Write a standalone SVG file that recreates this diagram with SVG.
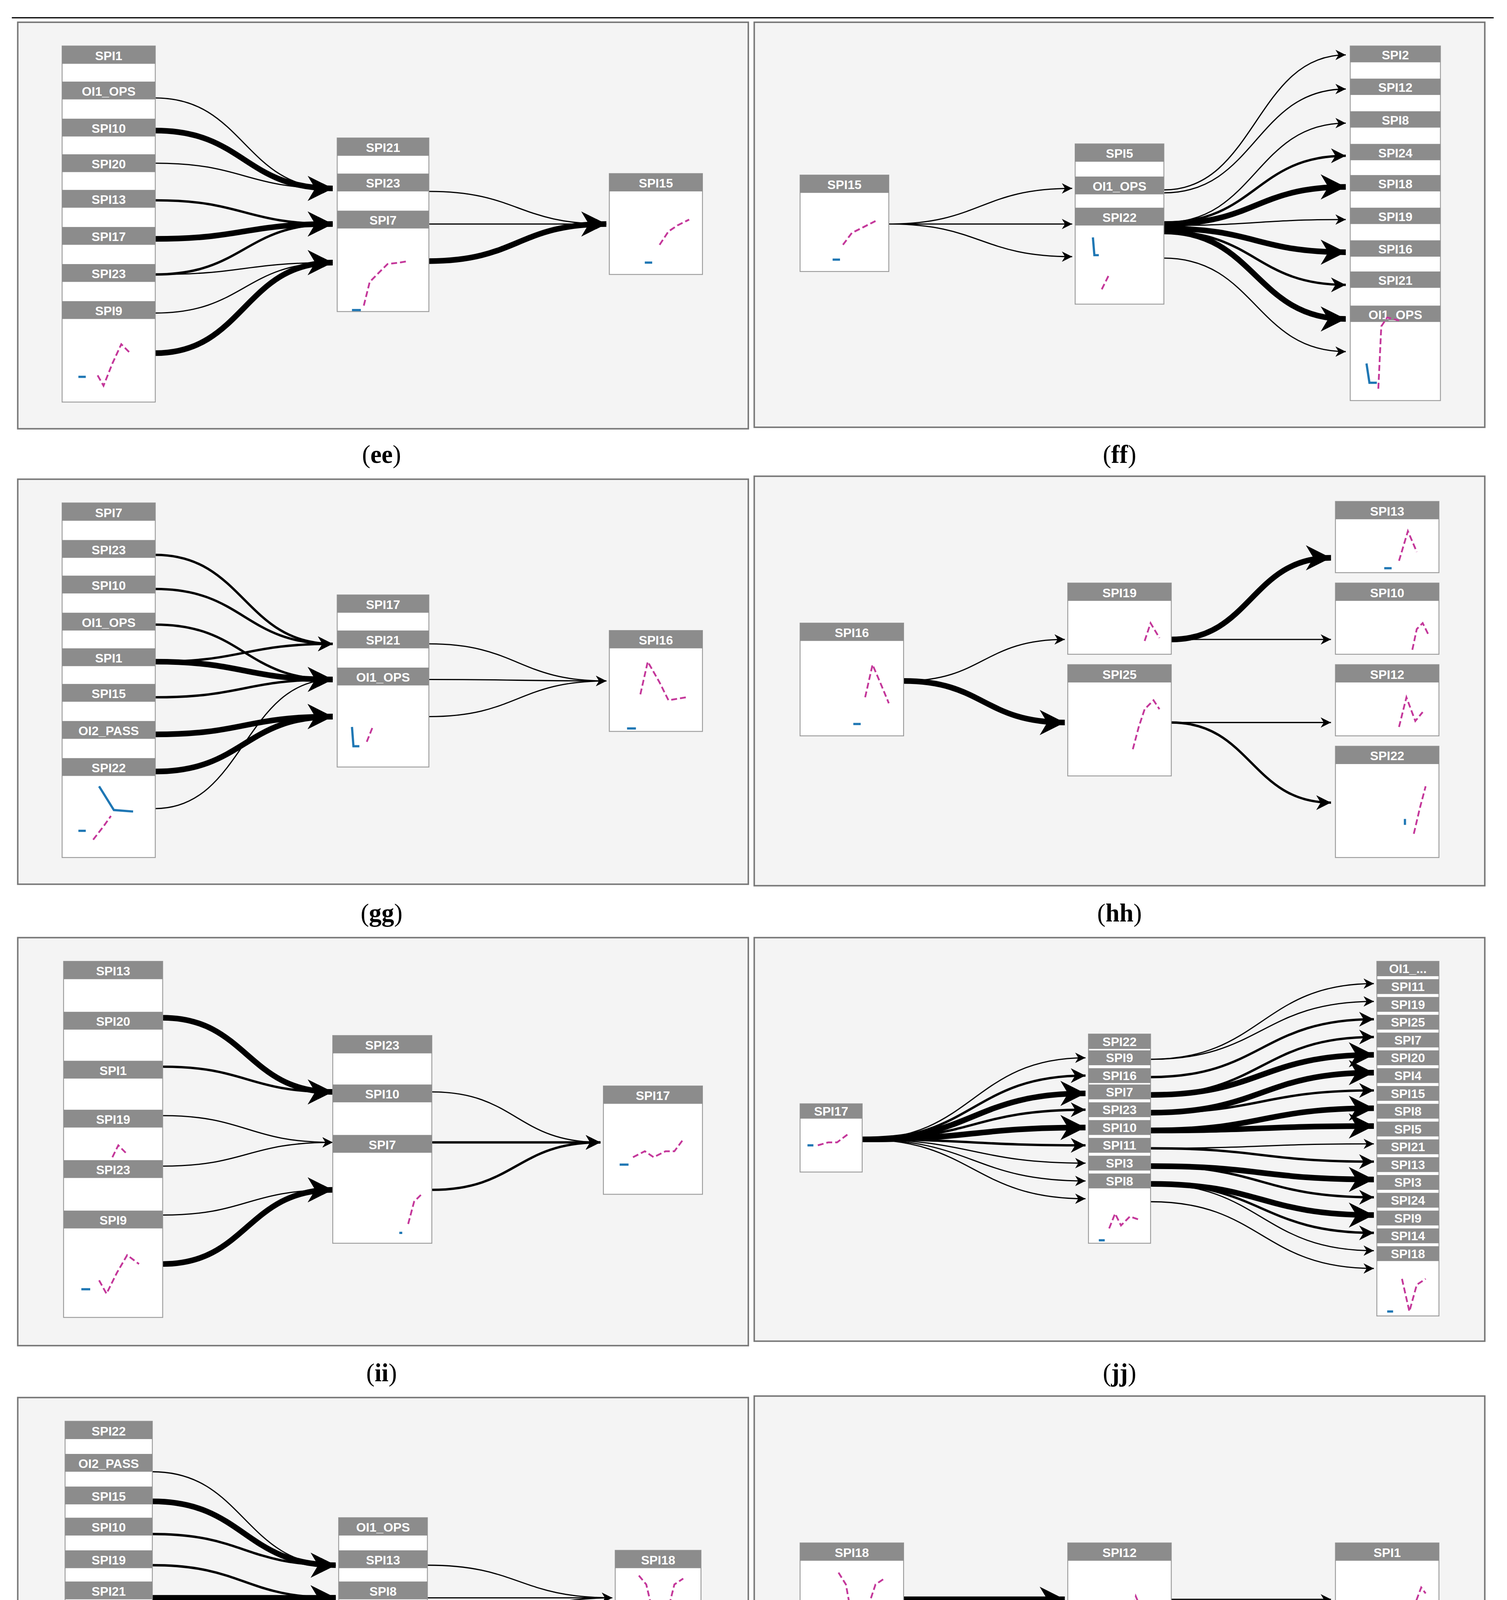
<svg xmlns="http://www.w3.org/2000/svg" width="3859" height="5951" viewBox="0 0 3859 5951">
<style>
.pn{fill:#f4f4f4;stroke:#777;stroke-width:1}
.bd{fill:#fff;stroke:#999;stroke-width:0.6}
.hd{fill:#8c8c8c}
.ht{fill:#fff;font-family:"Liberation Sans",Arial,sans-serif;font-weight:bold;font-size:8.5px;text-anchor:middle}
.cap{fill:#000;font-family:"Liberation Serif","Times New Roman",serif;font-size:17px;text-anchor:middle}
.cap tspan{font-weight:bold}
.e{fill:none;stroke:#000}
.t1{stroke-width:0.8;marker-end:url(#a1)}
.t2{stroke-width:1.6;marker-end:url(#a2)}
.t3{stroke-width:3.8;marker-end:url(#a3)}
.sp{fill:none;stroke:#c4379a;stroke-width:1.2;stroke-dasharray:4 2}
.bl{fill:none;stroke:#1f77b4;stroke-width:1.5}
</style>
<defs>
<marker id="a1" markerUnits="userSpaceOnUse" viewBox="0 0 10 10" refX="10" refY="5" markerWidth="7" markerHeight="7" orient="auto"><path d="M0,0 L10,5 L0,10 L3,5 Z" fill="#000"/></marker>
<marker id="a2" markerUnits="userSpaceOnUse" viewBox="0 0 10 10" refX="10" refY="5" markerWidth="10" markerHeight="10" orient="auto"><path d="M0,0 L10,5 L0,10 L3,5 Z" fill="#000"/></marker>
<marker id="a3" markerUnits="userSpaceOnUse" viewBox="0 0 10 10" refX="10" refY="5" markerWidth="17" markerHeight="17" orient="auto"><path d="M0,0 L10,5 L0,10 L3,5 Z" fill="#000"/></marker>
</defs>
<rect width="3859" height="5951" fill="#fff"/>
<g transform="scale(3.787,3.798)">
<line x1="8" y1="12" x2="1010" y2="12" stroke="#000" stroke-width="0.8"/>
<g id="panels">
<rect class="pn" x="12" y="15" width="494" height="274"/><rect class="pn" x="510" y="15" width="494" height="273"/>
<rect class="pn" x="12" y="323" width="494" height="273"/><rect class="pn" x="510" y="321" width="494" height="276"/>
<rect class="pn" x="12" y="632" width="494" height="275"/><rect class="pn" x="510" y="632" width="494" height="272"/>
<rect class="pn" x="12" y="942" width="494" height="272"/><rect class="pn" x="510" y="941" width="494" height="275"/>
<rect class="pn" x="12" y="1250" width="494" height="274"/><rect class="pn" x="510" y="1249" width="494" height="279"/>
</g>
<g id="captions">
<text class="cap" x="258" y="312">(<tspan>ee</tspan>)</text><text class="cap" x="757" y="312">(<tspan>ff</tspan>)</text>
<text class="cap" x="258" y="621">(<tspan>gg</tspan>)</text><text class="cap" x="757" y="621">(<tspan>hh</tspan>)</text>
<text class="cap" x="258" y="931">(<tspan>ii</tspan>)</text><text class="cap" x="757" y="931">(<tspan>jj</tspan>)</text>
<text class="cap" x="258" y="1239">(<tspan>kk</tspan>)</text><text class="cap" x="757" y="1239">(<tspan>ll</tspan>)</text>
<text class="cap" x="258" y="1552">(<tspan>mm</tspan>)</text><text class="cap" x="757" y="1552">(<tspan>nn</tspan>)</text>
</g>

<g id="connectors">
<!-- ee -->
<path class="e t1" d="M105,66 C165,66 165,127 225,127"/>
<path class="e t3" d="M105,88 C165,88 165,127 225,127"/>
<path class="e t1" d="M105,110 C165,110 165,127 225,127"/>
<path class="e t2" d="M105,135 C165,135 165,151 225,151"/>
<path class="e t3" d="M105,161 C165,161 165,151 225,151"/>
<path class="e t2" d="M105,185 C165,185 165,151 225,151"/>
<path class="e t1" d="M105,185 C165,185 165,177 225,177"/>
<path class="e t1" d="M105,211 C165,211 165,177 225,177"/>
<path class="e t3" d="M105,238 C165,238 165,177 225,177"/>
<path class="e t1" d="M290,129 C350,129 350,151 410,151"/>
<path class="e t1" d="M290,151 C350,151 350,151 410,151"/>
<path class="e t3" d="M290,176 C350,176 350,151 410,151"/>
<!-- ff -->
<path class="e t1" d="M601,151 C663,151 663,127 725,127"/>
<path class="e t1" d="M601,151 C663,151 663,151 725,151"/>
<path class="e t1" d="M601,151 C663,151 663,173 725,173"/>
<path class="e t1" d="M787,128 C849,128 849,37 910,37" stroke="#777"/>
<path class="e t1" d="M787,130 C849,130 849,60 910,60"/>
<path class="e t1" d="M787,150 C849,150 849,83 910,83"/>
<path class="e t2" d="M787,150 C849,150 849,105 910,105"/>
<path class="e t3" d="M787,151 C849,151 849,126 910,126"/>
<path class="e t1" d="M787,152 C849,152 849,148 910,148" stroke="#777"/>
<path class="e t3" d="M787,154 C849,154 849,170 910,170"/>
<path class="e t2" d="M787,156 C849,156 849,192 910,192"/>
<path class="e t3" d="M787,156 C849,156 849,215 910,215"/>
<path class="e t1" d="M787,174 C849,174 849,237 910,237"/>
<!-- gg -->
<path class="e t2" d="M105,374 C165,374 165,434 225,434"/>
<path class="e t2" d="M105,397 C165,397 165,434 225,434"/>
<path class="e t2" d="M105,421 C165,421 165,458 225,458"/>
<path class="e t2" d="M105,446 C165,446 165,434 225,434"/>
<path class="e t3" d="M105,446 C165,446 165,458 225,458"/>
<path class="e t2" d="M105,470 C165,470 165,458 225,458"/>
<path class="e t3" d="M105,495 C165,495 165,483 225,483"/>
<path class="e t3" d="M105,520 C165,520 165,483 225,483"/>
<path class="e t1" d="M105,545 C165,545 165,458 225,458"/>
<path class="e t1" d="M290,434 C350,434 350,459 410,459"/>
<path class="e t1" d="M290,458 C350,458 350,459 410,459"/>
<path class="e t1" d="M290,483 C350,483 350,459 410,459"/>
<!-- hh -->
<path class="e t1" d="M611,459 C665,459 665,431 720,431"/>
<path class="e t3" d="M611,459 C665,459 665,487 720,487"/>
<path class="e t3" d="M792,431 C846,431 846,376 900,376"/>
<path class="e t1" d="M792,431 C846,431 846,431 900,431"/>
<path class="e t1" d="M792,487 C846,487 846,487 900,487" stroke="#555"/>
<path class="e t2" d="M792,487 C846,487 846,541 900,541"/>
<!-- ii -->
<path class="e t3" d="M110,686 C167,686 167,736 225,736"/>
<path class="e t2" d="M110,719 C167,719 167,736 225,736"/>
<path class="e t1" d="M110,752 C167,752 167,770 225,770" stroke="#555"/>
<path class="e t1" d="M110,786 C167,786 167,770 225,770"/>
<path class="e t1" d="M110,819 C167,819 167,802 225,802"/>
<path class="e t3" d="M110,852 C167,852 167,802 225,802"/>
<path class="e t1" d="M292,736 C349,736 349,770 406,770"/>
<path class="e t2" d="M292,770 C349,770 349,770 406,770"/>
<path class="e t2" d="M292,802 C349,802 349,770 406,770"/>
<!-- jj -->
<path class="e t1" d="M583,768 C658,768 658,713 734,713"/>
<path class="e t2" d="M583,768 C658,768 658,725 734,725"/>
<path class="e t3" d="M583,768 C658,768 658,737 734,737"/>
<path class="e t2" d="M583,768 C658,768 658,748 734,748"/>
<path class="e t3" d="M583,768 C658,768 658,760 734,760"/>
<path class="e t2" d="M583,768 C658,768 658,772 734,772"/>
<path class="e t1" d="M583,768 C658,768 658,784 734,784"/>
<path class="e t1" d="M583,768 C658,768 658,796 734,796"/>
<path class="e t1" d="M583,768 C658,768 658,808 734,808"/>
<path class="e t1" d="M778,714 C853,714 853,663 929,663"/>
<path class="e t1" d="M778,714 C853,714 853,675 929,675" stroke="#666"/>
<path class="e t2" d="M778,726 C853,726 853,687 929,687"/>
<path class="e t2" d="M778,738 C853,738 853,699 929,699"/>
<path class="e t3" d="M778,738 C853,738 853,711 929,711"/>
<path class="e t3" d="M778,750 C853,750 853,723 929,723"/>
<path class="e t2" d="M778,750 C853,750 853,735 929,735"/>
<path class="e t3" d="M778,762 C853,762 853,747 929,747"/>
<path class="e t3" d="M778,762 C853,762 853,759 929,759"/>
<path class="e t1" d="M778,774 C853,774 853,771 929,771"/>
<path class="e t2" d="M778,774 C853,774 853,783 929,783"/>
<path class="e t3" d="M778,786 C853,786 853,795 929,795"/>
<path class="e t2" d="M778,786 C853,786 853,807 929,807"/>
<path class="e t3" d="M778,798 C853,798 853,819 929,819"/>
<path class="e t2" d="M778,798 C853,798 853,831 929,831"/>
<path class="e t1" d="M778,798 C853,798 853,843 929,843"/>
<path class="e t1" d="M778,810 C853,810 853,855 929,855" stroke="#666"/>
<!-- kk -->
<path class="e t1" d="M103,992 C165,992 165,1055 227,1055"/>
<path class="e t3" d="M103,1012 C165,1012 165,1055 227,1055"/>
<path class="e t2" d="M103,1034 C165,1034 165,1055 227,1055"/>
<path class="e t2" d="M103,1055 C165,1055 165,1077 227,1077"/>
<path class="e t3" d="M103,1077 C165,1077 165,1077 227,1077"/>
<path class="e t3" d="M103,1097 C165,1097 165,1077 227,1077"/>
<path class="e t1" d="M103,1120 C165,1120 165,1098 227,1098"/>
<path class="e t1" d="M103,1142 C165,1142 165,1098 227,1098"/>
<path class="e t1" d="M103,1164 C165,1164 165,1098 227,1098"/>
<path class="e t1" d="M289,1055 C351,1055 351,1077 414,1077" stroke="#777"/>
<path class="e t1" d="M289,1077 C351,1077 351,1077 414,1077"/>
<path class="e t1" d="M289,1098 C351,1098 351,1077 414,1077" stroke="#777"/>
<!-- ll -->
<path class="e t3" d="M611,1078 L720,1078"/>
<path class="e t1" d="M792,1078 L900,1078"/>
<!-- mm -->
<path class="e t1" d="M109,1304 C165,1304 165,1354 222,1354"/>
<path class="e t3" d="M109,1338 C165,1338 165,1354 222,1354"/>
<path class="e t1" d="M109,1380 C165,1380 165,1420 222,1420"/>
<path class="e t1" d="M109,1406 C165,1406 165,1420 222,1420"/>
<path class="e t1" d="M109,1472 C165,1472 165,1420 222,1420"/>
<path class="e t3" d="M292,1354 C348,1354 348,1388 405,1388"/>
<path class="e t3" d="M292,1388 C348,1388 348,1388 405,1388"/>
<!-- nn -->
<path class="e t3" d="M603,1388 C664,1388 664,1376 725,1376"/>
<path class="e t1" d="M603,1388 C664,1388 664,1398 725,1398"/>
<path class="e t3" d="M787,1376 C848,1376 848,1299 910,1299"/>
<path class="e t3" d="M787,1376 C848,1376 848,1320 910,1320"/>
<path class="e t2" d="M787,1376 C848,1376 848,1342 910,1342"/>
<path class="e t1" d="M787,1376 C848,1376 848,1364 910,1364"/>
<path class="e t1" d="M787,1377 C848,1377 848,1386 910,1386"/>
<path class="e t2" d="M787,1378 C848,1378 848,1408 910,1408"/>
<path class="e t1" d="M787,1378 C848,1378 848,1429 910,1429"/>
<path class="e t2" d="M787,1378 C848,1378 848,1451 910,1451"/>
<path class="e t1" d="M787,1378 C848,1378 848,1473 910,1473"/>
</g>

<!-- ee nodes -->
<g id="ee_left"><rect class="bd" x="42" y="31" width="63" height="240"/>
<rect class="hd" x="42" y="31" width="63" height="12"/><text class="ht" x="73.5" y="40.5">SPI1</text>
<rect class="hd" x="42" y="55" width="63" height="12"/><text class="ht" x="73.5" y="64.5">OI1_OPS</text>
<rect class="hd" x="42" y="80" width="63" height="12"/><text class="ht" x="73.5" y="89.5">SPI10</text>
<rect class="hd" x="42" y="104" width="63" height="12"/><text class="ht" x="73.5" y="113.5">SPI20</text>
<rect class="hd" x="42" y="128" width="63" height="12"/><text class="ht" x="73.5" y="137.5">SPI13</text>
<rect class="hd" x="42" y="153" width="63" height="12"/><text class="ht" x="73.5" y="162.5">SPI17</text>
<rect class="hd" x="42" y="178" width="63" height="12"/><text class="ht" x="73.5" y="187.5">SPI23</text>
<rect class="hd" x="42" y="203" width="63" height="12"/><text class="ht" x="73.5" y="212.5">SPI9</text>
<polyline class="sp" points="66,253 70,260 76,245 82,232 88,238"/><line class="bl" x1="53" y1="254" x2="58" y2="254"/></g>
<g id="ee_mid"><rect class="bd" x="228" y="93" width="62" height="117"/>
<rect class="hd" x="228" y="93" width="62" height="12"/><text class="ht" x="259" y="102.5">SPI21</text>
<rect class="hd" x="228" y="117" width="62" height="12"/><text class="ht" x="259" y="126.5">SPI23</text>
<rect class="hd" x="228" y="142" width="62" height="12"/><text class="ht" x="259" y="151.5">SPI7</text>
<polyline class="sp" points="246,206 250,190 254,186 262,178 270,177 276,176"/><line class="bl" x1="238" y1="209" x2="244" y2="209"/></g>
<g id="ee_right"><rect class="bd" x="412" y="117" width="63" height="68"/>
<rect class="hd" x="412" y="117" width="63" height="12"/><text class="ht" x="443.5" y="126.5">SPI15</text>
<polyline class="sp" points="446,165 452,156 458,152 466,148"/><line class="bl" x1="436" y1="177" x2="441" y2="177"/></g>

<!-- ff nodes -->
<g id="ff_left"><rect class="bd" x="541" y="118" width="60" height="65"/>
<rect class="hd" x="541" y="118" width="60" height="12"/><text class="ht" x="571" y="127.5">SPI15</text>
<polyline class="sp" points="570,165 576,157 584,153 592,149"/><line class="bl" x1="563" y1="175" x2="568" y2="175"/></g>
<g id="ff_mid"><rect class="bd" x="727" y="97" width="60" height="108"/>
<rect class="hd" x="727" y="97" width="60" height="12"/><text class="ht" x="757" y="106.5">SPI5</text>
<rect class="hd" x="727" y="119" width="60" height="12"/><text class="ht" x="757" y="128.5">OI1_OPS</text>
<rect class="hd" x="727" y="140" width="60" height="12"/><text class="ht" x="757" y="149.5">SPI22</text>
<polyline class="sp" points="745,195 750,185"/><polyline class="bl" points="739,160 740,172 743,172"/></g>
<g id="ff_right"><rect class="bd" x="913" y="31" width="61" height="239"/>
<rect class="hd" x="913" y="31" width="61" height="11"/><text class="ht" x="943.5" y="40">SPI2</text>
<rect class="hd" x="913" y="53" width="61" height="11"/><text class="ht" x="943.5" y="62">SPI12</text>
<rect class="hd" x="913" y="75" width="61" height="11"/><text class="ht" x="943.5" y="84">SPI8</text>
<rect class="hd" x="913" y="97" width="61" height="11"/><text class="ht" x="943.5" y="106">SPI24</text>
<rect class="hd" x="913" y="118" width="61" height="11"/><text class="ht" x="943.5" y="127">SPI18</text>
<rect class="hd" x="913" y="140" width="61" height="11"/><text class="ht" x="943.5" y="149">SPI19</text>
<rect class="hd" x="913" y="162" width="61" height="11"/><text class="ht" x="943.5" y="171">SPI16</text>
<rect class="hd" x="913" y="183" width="61" height="11"/><text class="ht" x="943.5" y="192">SPI21</text>
<rect class="hd" x="913" y="206" width="61" height="11"/><text class="ht" x="943.5" y="215">OI1_OPS</text>
<polyline class="sp" points="932,262 934,220 938,214 946,216"/><polyline class="bl" points="924,245 926,258 931,258"/></g>

<!-- gg nodes -->
<g id="gg_left"><rect class="bd" x="42" y="339" width="63" height="239"/>
<rect class="hd" x="42" y="339" width="63" height="12"/><text class="ht" x="73.5" y="348.5">SPI7</text>
<rect class="hd" x="42" y="364" width="63" height="12"/><text class="ht" x="73.5" y="373.5">SPI23</text>
<rect class="hd" x="42" y="388" width="63" height="12"/><text class="ht" x="73.5" y="397.5">SPI10</text>
<rect class="hd" x="42" y="413" width="63" height="12"/><text class="ht" x="73.5" y="422.5">OI1_OPS</text>
<rect class="hd" x="42" y="437" width="63" height="12"/><text class="ht" x="73.5" y="446.5">SPI1</text>
<rect class="hd" x="42" y="461" width="63" height="12"/><text class="ht" x="73.5" y="470.5">SPI15</text>
<rect class="hd" x="42" y="486" width="63" height="12"/><text class="ht" x="73.5" y="495.5">OI2_PASS</text>
<rect class="hd" x="42" y="511" width="63" height="12"/><text class="ht" x="73.5" y="520.5">SPI22</text>
<polyline class="bl" points="67,530 77,546 90,547"/><polyline class="sp" points="63,566 70,557 75,550"/><line class="bl" x1="53" y1="560" x2="58" y2="560"/></g>
<g id="gg_mid"><rect class="bd" x="228" y="401" width="62" height="116"/>
<rect class="hd" x="228" y="401" width="62" height="12"/><text class="ht" x="259" y="410.5">SPI17</text>
<rect class="hd" x="228" y="425" width="62" height="12"/><text class="ht" x="259" y="434.5">SPI21</text>
<rect class="hd" x="228" y="450" width="62" height="12"/><text class="ht" x="259" y="459.5">OI1_OPS</text>
<polyline class="bl" points="238,490 239,503 243,503"/><polyline class="sp" points="248,500 252,490"/></g>
<g id="gg_right"><rect class="bd" x="412" y="425" width="63" height="68"/>
<rect class="hd" x="412" y="425" width="63" height="12"/><text class="ht" x="443.5" y="434.5">SPI16</text>
<polyline class="sp" points="433,468 438,446 446,460 452,472 464,470"/><line class="bl" x1="424" y1="491" x2="430" y2="491"/></g>

<!-- hh nodes -->
<g id="hh_left"><rect class="bd" x="541" y="420" width="70" height="76"/>
<rect class="hd" x="541" y="420" width="70" height="12"/><text class="ht" x="576" y="429.5">SPI16</text>
<polyline class="sp" points="585,470 590,448 596,462 601,474"/><line class="bl" x1="577" y1="488" x2="582" y2="488"/></g>
<g id="hh_mid"><rect class="bd" x="722" y="393" width="70" height="48"/>
<rect class="hd" x="722" y="393" width="70" height="12"/><text class="ht" x="757" y="402.5">SPI19</text>
<polyline class="sp" points="774,432 778,420 784,430"/>
<rect class="bd" x="722" y="448" width="70" height="75"/>
<rect class="hd" x="722" y="448" width="70" height="12"/><text class="ht" x="757" y="457.5">SPI25</text>
<polyline class="sp" points="766,505 770,490 774,478 780,472 784,478"/></g>
<g id="hh_right"><rect class="bd" x="903" y="338" width="70" height="48"/>
<rect class="hd" x="903" y="338" width="70" height="12"/><text class="ht" x="938" y="347.5">SPI13</text>
<polyline class="sp" points="946,378 952,358 958,372"/><line class="bl" x1="936" y1="383" x2="941" y2="383"/>
<rect class="bd" x="903" y="393" width="70" height="48"/>
<rect class="hd" x="903" y="393" width="70" height="12"/><text class="ht" x="938" y="402.5">SPI10</text>
<polyline class="sp" points="955,438 958,424 962,420 966,428"/>
<rect class="bd" x="903" y="448" width="70" height="48"/>
<rect class="hd" x="903" y="448" width="70" height="12"/><text class="ht" x="938" y="457.5">SPI12</text>
<polyline class="sp" points="946,490 951,470 957,486 962,480"/>
<rect class="bd" x="903" y="503" width="70" height="75"/>
<rect class="hd" x="903" y="503" width="70" height="12"/><text class="ht" x="938" y="512.5">SPI22</text>
<polyline class="sp" points="956,562 960,545 964,530"/><line class="bl" x1="950" y1="556" x2="950" y2="552"/></g>

<!-- ii nodes -->
<g id="ii_left"><rect class="bd" x="43" y="648" width="67" height="240"/>
<rect class="hd" x="43" y="648" width="67" height="12"/><text class="ht" x="76.5" y="657.5">SPI13</text>
<rect class="hd" x="43" y="682" width="67" height="12"/><text class="ht" x="76.5" y="691.5">SPI20</text>
<rect class="hd" x="43" y="715" width="67" height="12"/><text class="ht" x="76.5" y="724.5">SPI1</text>
<rect class="hd" x="43" y="748" width="67" height="12"/><text class="ht" x="76.5" y="757.5">SPI19</text>
<rect class="hd" x="43" y="782" width="67" height="12"/><text class="ht" x="76.5" y="791.5">SPI23</text>
<rect class="hd" x="43" y="816" width="67" height="12"/><text class="ht" x="76.5" y="825.5">SPI9</text>
<polyline class="sp" points="67,863 72,872 79,858 86,846 94,852"/><line class="bl" x1="55" y1="869" x2="61" y2="869"/>
<polyline class="sp" points="76,780 80,772 86,778"/></g>
<g id="ii_mid"><rect class="bd" x="225" y="698" width="67" height="140"/>
<rect class="hd" x="225" y="698" width="67" height="12"/><text class="ht" x="258.5" y="707.5">SPI23</text>
<rect class="hd" x="225" y="731" width="67" height="12"/><text class="ht" x="258.5" y="740.5">SPI10</text>
<rect class="hd" x="225" y="765" width="67" height="12"/><text class="ht" x="258.5" y="774.5">SPI7</text>
<polyline class="sp" points="276,825 280,810 286,804"/><line class="bl" x1="270" y1="831" x2="272" y2="831"/></g>
<g id="ii_right"><rect class="bd" x="408" y="732" width="67" height="73"/>
<rect class="hd" x="408" y="732" width="67" height="12"/><text class="ht" x="441.5" y="741.5">SPI17</text>
<polyline class="sp" points="428,780 436,776 442,780 450,776 456,776 462,768"/><line class="bl" x1="419" y1="785" x2="425" y2="785"/></g>

<!-- jj nodes -->
<g id="jj_left"><rect class="bd" x="541" y="744" width="42" height="46"/>
<rect class="hd" x="541" y="744" width="42" height="10"/><text class="ht" x="562" y="752" font-size="7.5">SPI17</text>
<polyline class="sp" points="553,772 560,770 566,770 574,764"/><line class="bl" x1="546" y1="772" x2="550" y2="772"/></g>
<g id="jj_mid" font-size="7.5"><rect class="bd" x="736" y="697" width="42" height="141"/>
<rect class="hd" x="736" y="697" width="42" height="10"/><text class="ht" x="757" y="705" font-size="7.5">SPI22</text>
<rect class="hd" x="736" y="708" width="42" height="10"/><text class="ht" x="757" y="716" font-size="7.5">SPI9</text>
<rect class="hd" x="736" y="720" width="42" height="10"/><text class="ht" x="757" y="728" font-size="7.5">SPI16</text>
<rect class="hd" x="736" y="731" width="42" height="10"/><text class="ht" x="757" y="739" font-size="7.5">SPI7</text>
<rect class="hd" x="736" y="743" width="42" height="10"/><text class="ht" x="757" y="751" font-size="7.5">SPI23</text>
<rect class="hd" x="736" y="755" width="42" height="10"/><text class="ht" x="757" y="763" font-size="7.5">SPI10</text>
<rect class="hd" x="736" y="767" width="42" height="10"/><text class="ht" x="757" y="775" font-size="7.5">SPI11</text>
<rect class="hd" x="736" y="779" width="42" height="10"/><text class="ht" x="757" y="787" font-size="7.5">SPI3</text>
<rect class="hd" x="736" y="791" width="42" height="10"/><text class="ht" x="757" y="799" font-size="7.5">SPI8</text>
<polyline class="sp" points="750,828 754,818 758,826 764,820 770,822"/><line class="bl" x1="743" y1="836" x2="747" y2="836"/></g>
<g id="jj_right"><rect class="bd" x="931" y="648" width="42" height="239"/>
<rect class="hd" x="931" y="648" width="42" height="10"/><text class="ht" x="952" y="656" font-size="7.5">OI1_...</text>
<rect class="hd" x="931" y="660" width="42" height="10"/><text class="ht" x="952" y="668" font-size="7.5">SPI11</text>
<rect class="hd" x="931" y="672" width="42" height="10"/><text class="ht" x="952" y="680" font-size="7.5">SPI19</text>
<rect class="hd" x="931" y="684" width="42" height="10"/><text class="ht" x="952" y="692" font-size="7.5">SPI25</text>
<rect class="hd" x="931" y="696" width="42" height="10"/><text class="ht" x="952" y="704" font-size="7.5">SPI7</text>
<rect class="hd" x="931" y="708" width="42" height="10"/><text class="ht" x="952" y="716" font-size="7.5">SPI20</text>
<rect class="hd" x="931" y="720" width="42" height="10"/><text class="ht" x="952" y="728" font-size="7.5">SPI4</text>
<rect class="hd" x="931" y="732" width="42" height="10"/><text class="ht" x="952" y="740" font-size="7.5">SPI15</text>
<rect class="hd" x="931" y="744" width="42" height="10"/><text class="ht" x="952" y="752" font-size="7.5">SPI8</text>
<rect class="hd" x="931" y="756" width="42" height="10"/><text class="ht" x="952" y="764" font-size="7.5">SPI5</text>
<rect class="hd" x="931" y="768" width="42" height="10"/><text class="ht" x="952" y="776" font-size="7.5">SPI21</text>
<rect class="hd" x="931" y="780" width="42" height="10"/><text class="ht" x="952" y="788" font-size="7.5">SPI13</text>
<rect class="hd" x="931" y="792" width="42" height="10"/><text class="ht" x="952" y="800" font-size="7.5">SPI3</text>
<rect class="hd" x="931" y="804" width="42" height="10"/><text class="ht" x="952" y="812" font-size="7.5">SPI24</text>
<rect class="hd" x="931" y="816" width="42" height="10"/><text class="ht" x="952" y="824" font-size="7.5">SPI9</text>
<rect class="hd" x="931" y="828" width="42" height="10"/><text class="ht" x="952" y="836" font-size="7.5">SPI14</text>
<rect class="hd" x="931" y="840" width="42" height="10"/><text class="ht" x="952" y="848" font-size="7.5">SPI18</text>
<polyline class="sp" points="948,862 953,884 958,866 964,862"/><line class="bl" x1="938" y1="884" x2="942" y2="884"/></g>

<!-- kk nodes -->
<g id="kk_left"><rect class="bd" x="44" y="958" width="59" height="238"/>
<rect class="hd" x="44" y="958" width="59" height="12"/><text class="ht" x="73.5" y="967.5">SPI22</text>
<rect class="hd" x="44" y="980" width="59" height="12"/><text class="ht" x="73.5" y="989.5">OI2_PASS</text>
<rect class="hd" x="44" y="1002" width="59" height="12"/><text class="ht" x="73.5" y="1011.5">SPI15</text>
<rect class="hd" x="44" y="1023" width="59" height="12"/><text class="ht" x="73.5" y="1032.5">SPI10</text>
<rect class="hd" x="44" y="1045" width="59" height="12"/><text class="ht" x="73.5" y="1054.5">SPI19</text>
<rect class="hd" x="44" y="1066" width="59" height="12"/><text class="ht" x="73.5" y="1075.5">SPI21</text>
<rect class="hd" x="44" y="1088" width="59" height="12"/><text class="ht" x="73.5" y="1097.5">SPI5</text>
<rect class="hd" x="44" y="1110" width="59" height="12"/><text class="ht" x="73.5" y="1119.5">SPI23</text>
<rect class="hd" x="44" y="1132" width="59" height="12"/><text class="ht" x="73.5" y="1141.5">SPI17</text>
<polyline class="sp" points="62,1178 70,1176 78,1178 86,1172 92,1164"/><line class="bl" x1="53" y1="1181" x2="59" y2="1181"/></g>
<g id="kk_mid"><rect class="bd" x="229" y="1023" width="60" height="108"/>
<rect class="hd" x="229" y="1023" width="60" height="12"/><text class="ht" x="259" y="1032.5">OI1_OPS</text>
<rect class="hd" x="229" y="1045" width="60" height="12"/><text class="ht" x="259" y="1054.5">SPI13</text>
<rect class="hd" x="229" y="1066" width="60" height="12"/><text class="ht" x="259" y="1075.5">SPI8</text>
<polyline class="sp" points="250,1092 254,1112 260,1102 266,1108 272,1100 278,1102"/><line class="bl" x1="238" y1="1129" x2="244" y2="1129"/></g>
<g id="kk_right"><rect class="bd" x="416" y="1045" width="58" height="65"/>
<rect class="hd" x="416" y="1045" width="58" height="12"/><text class="ht" x="445" y="1054.5">SPI18</text>
<polyline class="sp" points="432,1062 437,1068 446,1106 452,1084 456,1068 462,1064"/><line class="bl" x1="426" y1="1108" x2="432" y2="1108"/></g>

<!-- ll nodes -->
<g id="ll_a"><rect class="bd" x="541" y="1040" width="70" height="76"/>
<rect class="hd" x="541" y="1040" width="70" height="12"/><text class="ht" x="576" y="1049.5">SPI18</text>
<polyline class="sp" points="567,1060 572,1068 580,1112 588,1080 592,1068 598,1064"/><line class="bl" x1="553" y1="1114" x2="560" y2="1114"/></g>
<g id="ll_b"><rect class="bd" x="722" y="1040" width="70" height="76"/>
<rect class="hd" x="722" y="1040" width="70" height="12"/><text class="ht" x="757" y="1049.5">SPI12</text>
<polyline class="sp" points="764,1094 768,1076 774,1090 780,1080"/><line class="bl" x1="758" y1="1108" x2="762" y2="1108"/></g>
<g id="ll_c"><rect class="bd" x="903" y="1040" width="70" height="76"/>
<rect class="hd" x="903" y="1040" width="70" height="12"/><text class="ht" x="938" y="1049.5">SPI1</text>
<polyline class="sp" points="952,1108 955,1088 958,1078 961,1070 964,1074"/><line class="bl" x1="946" y1="1108" x2="950" y2="1108"/></g>

<!-- mm nodes -->
<g id="mm_left"><rect class="bd" x="42" y="1266" width="67" height="240"/>
<rect class="hd" x="42" y="1266" width="67" height="12"/><text class="ht" x="75.5" y="1275.5">SPI22</text>
<rect class="hd" x="42" y="1300" width="67" height="12"/><text class="ht" x="75.5" y="1309.5">OI2_PASS</text>
<rect class="hd" x="42" y="1333" width="67" height="12"/><text class="ht" x="75.5" y="1342.5">SPI15</text>
<rect class="hd" x="42" y="1367" width="67" height="12"/><text class="ht" x="75.5" y="1376.5">OI1_OPS</text>
<rect class="hd" x="42" y="1401" width="67" height="12"/><text class="ht" x="75.5" y="1410.5">SPI17</text>
<rect class="hd" x="42" y="1434" width="67" height="12"/><text class="ht" x="75.5" y="1443.5">SPI21</text>
<polyline class="sp" points="82,1480 86,1468 92,1462 98,1470"/><line class="bl" x1="74" y1="1499" x2="79" y2="1499"/><line class="bl" x1="58" y1="1328" x2="62" y2="1334"/></g>
<g id="mm_mid"><rect class="bd" x="224" y="1317" width="68" height="140"/>
<rect class="hd" x="224" y="1317" width="68" height="12"/><text class="ht" x="258" y="1326.5">OI1_OPS</text>
<rect class="hd" x="224" y="1350" width="68" height="12"/><text class="ht" x="258" y="1359.5">OI2_PASS</text>
<rect class="hd" x="224" y="1384" width="68" height="12"/><text class="ht" x="258" y="1393.5">SPI16</text>
<polyline class="sp" points="274,1430 278,1410 282,1424 286,1434"/><line class="bl" x1="268" y1="1448" x2="271" y2="1448"/></g>
<g id="mm_right"><rect class="bd" x="407" y="1351" width="68" height="73"/>
<rect class="hd" x="407" y="1351" width="68" height="12"/><text class="ht" x="441" y="1360.5">SPI19</text>
<polyline class="sp" points="430,1410 436,1394 442,1378 450,1380 462,1390"/><line class="bl" x1="419" y1="1384" x2="425" y2="1384"/></g>

<!-- nn nodes -->
<g id="nn_left"><rect class="bd" x="541" y="1354" width="62" height="66"/>
<rect class="hd" x="541" y="1354" width="62" height="12"/><text class="ht" x="572" y="1363.5">SPI19</text>
<polyline class="sp" points="562,1402 566,1392 572,1376 578,1378 590,1388"/><line class="bl" x1="551" y1="1384" x2="557" y2="1384"/></g>
<g id="nn_mid"><rect class="bd" x="727" y="1342" width="60" height="90"/>
<rect class="hd" x="727" y="1342" width="60" height="12"/><text class="ht" x="757" y="1351.5">SPI13</text>
<rect class="hd" x="727" y="1365" width="60" height="12"/><text class="ht" x="757" y="1374.5">SPI10</text>
<polyline class="sp" points="744,1396 748,1430 752,1408 756,1428 760,1410"/><line class="bl" x1="737" y1="1430" x2="742" y2="1430"/></g>
<g id="nn_right"><rect class="bd" x="912" y="1265" width="62" height="243"/>
<rect class="hd" x="912" y="1265" width="62" height="11"/><text class="ht" x="943" y="1274">SPI9</text>
<rect class="hd" x="912" y="1287" width="62" height="11"/><text class="ht" x="943" y="1296">SPI23</text>
<rect class="hd" x="912" y="1309" width="62" height="11"/><text class="ht" x="943" y="1318">SPI14</text>
<rect class="hd" x="912" y="1331" width="62" height="11"/><text class="ht" x="943" y="1340">SPI18</text>
<rect class="hd" x="912" y="1353" width="62" height="11"/><text class="ht" x="943" y="1362">SPI5</text>
<rect class="hd" x="912" y="1375" width="62" height="11"/><text class="ht" x="943" y="1384">SPI17</text>
<rect class="hd" x="912" y="1397" width="62" height="11"/><text class="ht" x="943" y="1406">SPI21</text>
<rect class="hd" x="912" y="1419" width="62" height="11"/><text class="ht" x="943" y="1428">SPI13</text>
<rect class="hd" x="912" y="1441" width="62" height="11"/><text class="ht" x="943" y="1450">SPI3</text>
<polyline class="sp" points="932,1462 936,1485 940,1466"/><line class="bl" x1="922" y1="1505" x2="928" y2="1505"/></g>
</g>
</svg>
